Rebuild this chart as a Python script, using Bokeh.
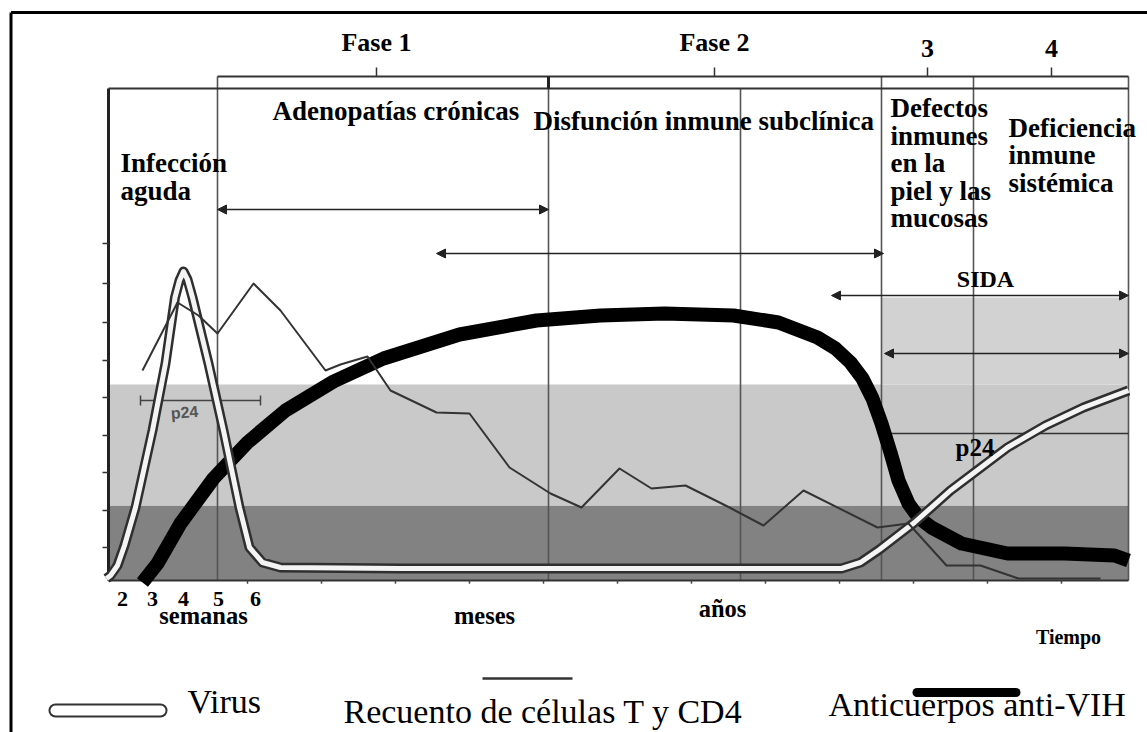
from bokeh.plotting import figure
from bokeh.models import Range1d, Arrow, NormalHead
from bokeh.core.properties import value
from bokeh.embed import file_html
from bokeh.resources import INLINE

# ---------------- data (time in arbitrary units, level in arbitrary units) ----------------
virus_x = [-0.2, 0.2, 0.9, 1.6, 2.7, 4.4, 5.7, 6.65, 7.1, 7.5, 7.9, 8.4, 10.0, 11.5, 13.1, 14.1,
           15.4, 17.2, 29.2, 49.2, 73.3, 75.2, 77.1, 80.6, 84.2, 89.9, 93.7, 97.5, 102.0]
virus_y = [0.5, 1.25, 3.75, 8.75, 18.25, 37.5, 54.25, 70.75, 75.0, 77.25, 75.25, 70.75, 54.25, 37.5,
           18.25, 8.25, 4.5, 3.25, 3.0, 3.0, 3.0, 4.5, 7.75, 14.5, 22.5, 33.25, 38.75, 43.25, 47.5]

tcell_x = [3.4, 6.9, 9.0, 10.9, 14.5, 17.2, 21.7, 23.2, 25.9, 28.2, 32.8, 36.1, 40.1, 44.2, 47.3,
           51.1, 54.3, 57.7, 62.1, 65.5, 69.5, 76.9, 80.0, 83.8, 87.2, 91.0, 99.2]
tcell_y = [52.5, 69.5, 66.25, 61.75, 74.25, 67.5, 52.5, 54.0, 56.0, 47.5, 42.0, 41.75, 28.25, 21.75,
           18.25, 28.0, 23.0, 23.75, 18.25, 13.75, 22.5, 13.25, 14.25, 3.75, 3.75, 0.5, 0.5]

antib_x = [3.4, 4.9, 7.2, 10.5, 13.9, 17.7, 22.5, 27.5, 35.1, 42.8, 49.2, 55.6, 62.5, 67.0, 70.9,
           72.7, 74.2, 75.4, 76.4, 77.3, 78.2, 79.0, 80.0, 81.0, 82.3, 85.3, 89.9, 95.6, 100.6, 102.0]
antib_y = [-0.5, 4.25, 14.25, 25.5, 34.5, 42.5, 49.75, 55.5, 61.5, 65.0, 66.25, 66.75, 66.25, 64.5,
           60.75, 58.0, 54.5, 50.5, 45.5, 39.25, 32.0, 25.0, 19.25, 15.75, 13.25, 9.25, 6.75, 6.75,
           6.25, 5.0]

# shaded bands
band_left = [0, 0, 77.3]
band_right = [102, 102, 102]
band_bottom = [0, 18.75, 49]
band_top = [18.75, 49, 70.75]
band_color = ["#828282", "#c9c9c9", "#d2d2d2"]

# phase boundaries (vertical lines)
vline_x = [10.9, 44.0, 63.2, 77.3, 86.5, 102.0]
vline_top = [126, 126, 123, 126, 126, 126]

# top phase labels
phase_labels = ["Fase 1", "Fase 2", "3", "4"]
phase_x = [26.8, 60.6, 81.9, 94.3]
phase_y = [134.5, 134.5, 133.0, 133.0]

# x tick labels
week_labels = ["2", "3", "4", "5", "6"]
week_x = [1.4, 4.4, 7.5, 11.0, 14.7]
minor_tick_x = [13.9, 21.3, 28.7, 36.1, 43.5, 50.9, 58.3, 65.7, 73.1, 80.5, 87.9, 95.3]
ytick_y = [84.25, 74.25, 64.5, 55.0, 45.75, 36.25, 27.0, 17.5, 8.25]

unit_labels = ["semanas", "meses", "años"]
unit_x = [9.5, 37.6, 61.4]
unit_y = [-8.75, -8.75, -7.0]

# stage labels (left-aligned blocks)
stage_text = ["Adenopatías crónicas", "Disfunción inmune subclínica", "Infección", "aguda",
              "Defectos", "inmunes", "en  la", "piel y las", "mucosas",
              "Deficiencia", "inmune", "sistémica"]
stage_x = [16.4, 42.5, 1.2, 1.2, 78.2, 78.2, 78.2, 78.2, 78.2, 90.0, 90.0, 90.0]
stage_y = [117.5, 115.0, 104.5, 97.5, 118.25, 111.25, 104.5, 97.5, 90.75, 113.25, 106.5, 99.5]

# horizontal arrows: (x_start, x_end, y)
arrow_x0 = [10.9, 32.8, 72.3, 77.6]
arrow_x1 = [44.0, 77.5, 102.0, 102.0]
arrow_y = [92.75, 81.75, 71.25, 56.75]

# legend
legend_text = ["Virus", "Recuento de células T y CD4", "Anticuerpos anti-VIH"]
legend_x = [7.9, 23.5, 72.0]
legend_y = [-30.25, -32.75, -31.0]

# ---------------- figure ----------------
p = figure(width=1147, height=732, x_range=Range1d(-10.8, 103.9), y_range=Range1d(-38, 145),
           toolbar_location=None, output_backend="svg", min_border=0,
           x_axis_type=None, y_axis_type=None)
p.grid.visible = False
p.outline_line_color = None
p.background_fill_color = "white"

SERIF = value("Liberation Serif")

# outer border (top + left)
p.segment(x0=[-9.75, -9.75], y0=[142, 142], x1=[103.9, -9.75], y1=[142, -38],
          line_color="black", line_width=3)

# bands
p.quad(left=band_left, right=band_right, bottom=band_bottom, top=band_top,
       fill_color=band_color, line_color=None)

# box / frame lines
p.segment(x0=vline_x, y0=[0] * len(vline_x), x1=vline_x, y1=vline_top,
          line_color="#555555", line_width=1.6)
p.segment(x0=[10.9, 0, 0], y0=[126, 123, 0], x1=[102, 102, 102], y1=[126, 123, 0],
          line_color="#333333", line_width=2)
p.segment(x0=[0], y0=[0], x1=[0], y1=[123], line_color="#222222", line_width=3)
p.segment(x0=[44.0], y0=[123], x1=[44.0], y1=[126], line_color="#222222", line_width=3)
# phase ticks
p.segment(x0=phase_x, y0=[126] * 4, x1=phase_x, y1=[128.25] * 4, line_color="#333333", line_width=1.5)
# axis ticks
p.segment(x0=[-0.6] * len(ytick_y), y0=ytick_y, x1=[0] * len(ytick_y), y1=ytick_y,
          line_color="#333333", line_width=1.5)
p.segment(x0=minor_tick_x, y0=[0] * len(minor_tick_x), x1=minor_tick_x, y1=[-0.8] * len(minor_tick_x),
          line_color="#444444", line_width=1.5)

# arrows
for x0, x1, yy in zip(arrow_x0, arrow_x1, arrow_y):
    p.add_layout(Arrow(start=NormalHead(size=9, fill_color="#222222", line_color="#222222"),
                       end=NormalHead(size=9, fill_color="#222222", line_color="#222222"),
                       x_start=x0, y_start=yy, x_end=x1, y_end=yy,
                       line_color="#222222", line_width=1.5))
# p24 line on the right
p.segment(x0=[77.6], y0=[36.75], x1=[102], y1=[36.75], line_color="#333333", line_width=1.5)
# p24 bar on the left
p.segment(x0=[3.2, 3.2, 15.2], y0=[45, 43.75, 43.75], x1=[15.2, 3.2, 15.2], y1=[45, 46.25, 46.25],
          line_color="#444444", line_width=1.5)

# curves
p.line(antib_x, antib_y, line_width=14, line_color="black", line_join="round")
p.line(virus_x, virus_y, line_width=10, line_color="#2f2f2f", line_join="round")
p.line(virus_x, virus_y, line_width=5, line_color="#f4f4f4", line_join="round")
p.line(tcell_x, tcell_y, line_width=2, line_color="#333333", line_join="round")

# texts
p.text(x=phase_x, y=phase_y, text=phase_labels, text_font=SERIF, text_font_style="bold",
       text_font_size="26px", text_align="center", text_baseline="middle", text_color="black")
p.text(x=stage_x, y=stage_y, text=stage_text, text_font=SERIF, text_font_style="bold",
       text_font_size="27px", text_align="left", text_baseline="middle", text_color="black")
p.text(x=[87.7], y=[75.5], text=["SIDA"], text_font=SERIF, text_font_style="bold",
       text_font_size="24px", text_align="center", text_baseline="middle")
p.text(x=[84.7], y=[33.25], text=["p24"], text_font=SERIF, text_font_style="bold",
       text_font_size="25px", text_align="left", text_baseline="middle")
p.text(x=[7.6], y=[42], text=["p24"], text_font=value("Liberation Sans"), text_font_style="bold",
       text_font_size="16px", text_align="center", text_baseline="middle", text_color="#555555",
       angle=0.08)
p.text(x=week_x, y=[-4.5] * 5, text=week_labels, text_font=SERIF, text_font_style="bold",
       text_font_size="22px", text_align="center", text_baseline="middle")
p.text(x=unit_x, y=unit_y, text=unit_labels, text_font=SERIF, text_font_style="bold",
       text_font_size="24.5px", text_align="center", text_baseline="middle")
p.text(x=[96.0], y=[-14.0], text=["Tiempo"], text_font=SERIF, text_font_style="bold",
       text_font_size="20px", text_align="center", text_baseline="middle")

# legend
p.line([-5.3, 5.2], [-32.5, -32.5], line_width=14, line_color="#333333", line_cap="round")
p.line([-5.3, 5.2], [-32.5, -32.5], line_width=10, line_color="white", line_cap="round")
p.line([37.4, 46.4], [-24.5, -24.5], line_width=2.5, line_color="#333333")
p.line([80.85, 90.75], [-28.0, -28.0], line_width=9, line_color="black", line_cap="round")
p.text(x=legend_x, y=legend_y, text=legend_text,
       text_font=SERIF, text_font_size="34px", text_align="left", text_baseline="middle",
       text_color="black")

open("out.html", "w").write(file_html(p, INLINE))
